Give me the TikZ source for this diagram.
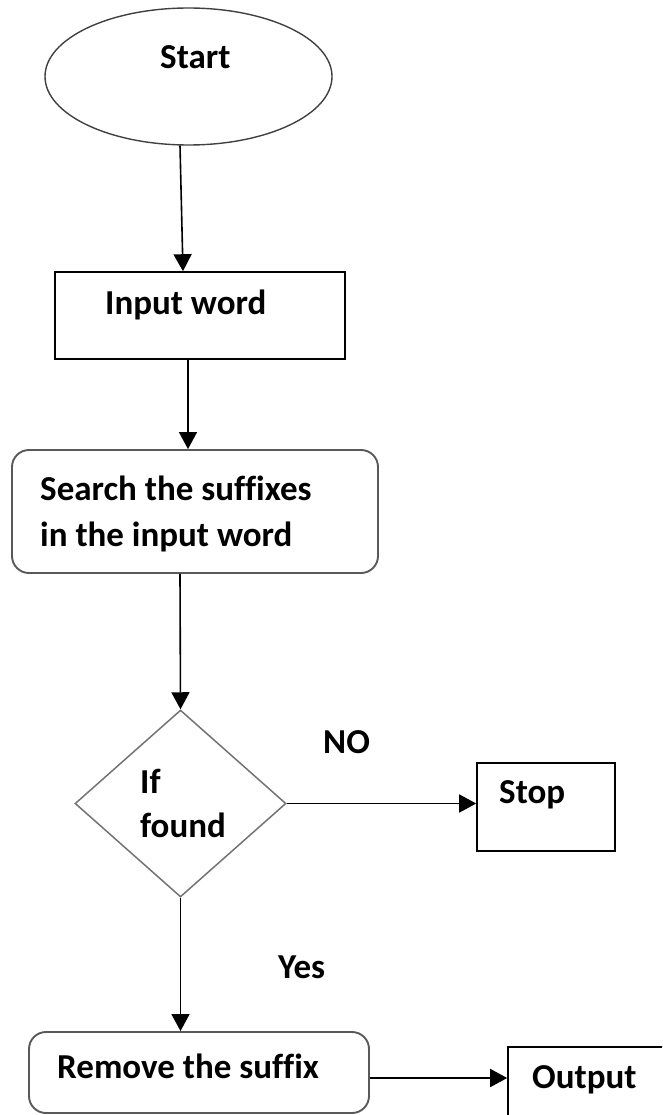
\documentclass[tikz,border=0pt]{standalone}
\usepackage{fontspec}
\setmainfont{Carlito}[Ligatures=CommonOff]
\usetikzlibrary{shapes.geometric,arrows.meta}
\begin{document}
\begin{tikzpicture}[x=1pt,y=-1pt,
  lbl/.style={anchor=base west, inner sep=0pt, font=\fontsize{35}{46}\selectfont\bfseries, text=black},
  plainbox/.style={draw=black, line width=1.6pt, rectangle, inner sep=0pt},
  roundbox/.style={draw=black!65, line width=1.9pt, rectangle, rounded corners=17pt, inner sep=0pt},
  decision/.style={diamond, draw=black!55, line width=1.5pt, inner sep=0pt},
  terminal/.style={ellipse, draw=black!75, line width=1.4pt, inner sep=0pt},
  flow/.style={-{Triangle[length=17pt,width=18pt]}, line width=1.6pt, draw=black}]
\useasboundingbox (0,0) rectangle (662,1115);
\clip (0,0) rectangle (662,1115);
% shapes
\node[terminal, minimum width=287pt, minimum height=137pt] (start) at (188.5,76.5) {};
\node[plainbox, minimum width=290pt, minimum height=87pt] (input) at (200,315.5) {};
\node[roundbox, minimum width=366pt, minimum height=123pt] (search) at (195,511.5) {};
\node[decision, minimum width=211pt, minimum height=187pt] (dec) at (180.5,803.5) {};
\node[plainbox, minimum width=138pt, minimum height=88pt] (stop) at (546,807) {};
\node[roundbox, minimum width=340pt, minimum height=81pt] (remove) at (199,1072.5) {};
\node[plainbox, minimum width=170pt, minimum height=90pt] (output) at (593,1092) {};
% texts
\node[lbl] (tstart) at (160,69) {Start};
\node[lbl] (tinput) at (105,314) {Input word};
\node[lbl] (tsearch) at (40,500) {\begin{tabular}[t]{@{}l@{}}Search the suffixes\\in the input word\end{tabular}};
\node[lbl] (tif) at (140,793) {If};
\node[lbl] (tfound) at (140,837) {found};
\node[lbl] (tno) at (323,753) {NO};
\node[lbl] (tstop) at (499,803) {Stop};
\node[lbl] (tyes) at (278,978) {Yes};
\node[lbl] (tremove) at (57,1078) {Remove the suffix};
\node[lbl] (toutput) at (532,1088) {Output};
% connectors
\draw[flow] ([xshift=-8.5pt]start.south) -- ([xshift=-17pt]input.north);
\draw[flow] ([xshift=-12pt]input.south) -- ([xshift=-7pt]search.north);
\draw[flow] ([xshift=-15pt]search.south) -- (dec.north);
\draw[flow] (dec.east) -- (dec.east -| stop.west);
\draw[flow] (dec.south) -- (dec.south |- remove.north);
\draw[flow] ([yshift=-5.5pt]remove.east) -- ([yshift=-5.5pt]remove.east -| output.west);
\end{tikzpicture}
\end{document}
